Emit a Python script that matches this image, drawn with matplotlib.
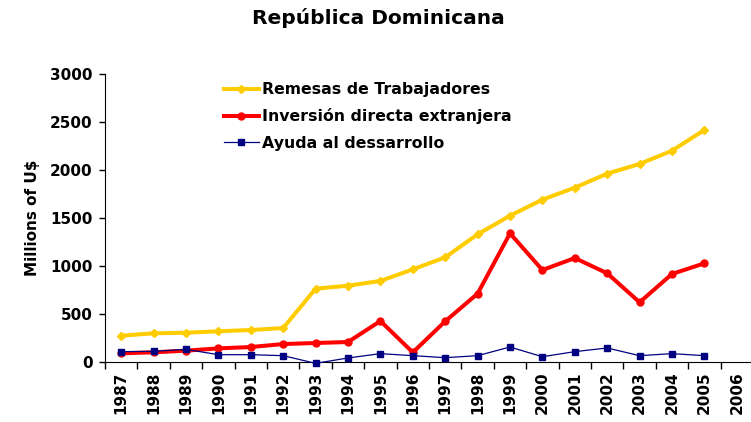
import matplotlib
matplotlib.use("Agg")
import matplotlib.pyplot as plt
import numpy as np

years = [str(y) for y in range(1987, 2007)]
remesas = [274, 299, 305, 320, 333, 354, 764, 795, 844, 965, 1090, 1330, 1524, 1691, 1816, 1962, 2063, 2201, 2417]
inversion = [90, 101, 118, 142, 156, 187, 198, 208, 427, 100, 424, 712, 1340, 958, 1083, 924, 622, 917, 1028]
ayuda = [108, 111, 132, 76, 76, 66, -14, 42, 87, 66, 45, 66, 156, 55, 108, 146, 66, 87, 66]

plt.rcParams['font.family'] = ['DejaVu Sans']
W, H = 751, 422
fig = plt.figure(figsize=(W / 100, H / 100), dpi=100)
ax = fig.add_axes([105 / W, (H - 362) / H, 648 / W, 288 / H])

x = np.arange(len(remesas))
ax.plot(x, remesas, color='#FFCC00', lw=2.9, marker='D', ms=4, label='Remesas de Trabajadores', clip_on=False, zorder=3)
ax.plot(x, inversion, color='#FF0000', lw=2.9, marker='o', ms=5, label='Inversión directa extranjera', clip_on=False, zorder=3)
ax.plot(x, ayuda, color='#000080', lw=0.9, marker='s', ms=4.5, label='Ayuda al dessarrollo', clip_on=False, zorder=3)

ax.set_xlim(-0.5, len(years) - 0.5)
ax.set_ylim(0, 3000)
ax.set_yticks(np.arange(0, 3001, 500))
ax.set_xticks(np.arange(len(years)))
ax.set_xticklabels(years, rotation=90, fontweight='bold', fontsize=11)
ax.set_xticks(np.arange(len(years) + 1) - 0.5, minor=True)
ax.tick_params(axis='x', which='major', length=0, pad=7)
ax.tick_params(axis='x', which='minor', length=5, direction='out', width=1)
ax.tick_params(axis='y', length=4, width=1, labelsize=11, pad=5)
for lbl in ax.get_yticklabels():
    lbl.set_fontweight('bold')
ax.spines['top'].set_visible(False)
ax.spines['right'].set_visible(False)
ax.spines['left'].set_color('black')
ax.spines['bottom'].set_color('black')
ax.set_ylabel('Millions of U$', fontweight='bold', fontsize=11)
ax.yaxis.set_label_coords((40 - 105) / 648, 0.5)

leg = ax.legend(loc='upper left', bbox_to_anchor=(224 / W, 1 - 82 / H), bbox_transform=fig.transFigure,
                frameon=False, prop={'weight': 'bold', 'size': 11.3},
                handlelength=2.2, handletextpad=0.2, labelspacing=0.72, borderpad=0, borderaxespad=0)

fig.text(378.5 / W, 1 - 18 / H, 'República Dominicana', ha='center', va='center', fontweight='bold', fontsize=14.5)

fig.savefig('out.png', dpi=100)
